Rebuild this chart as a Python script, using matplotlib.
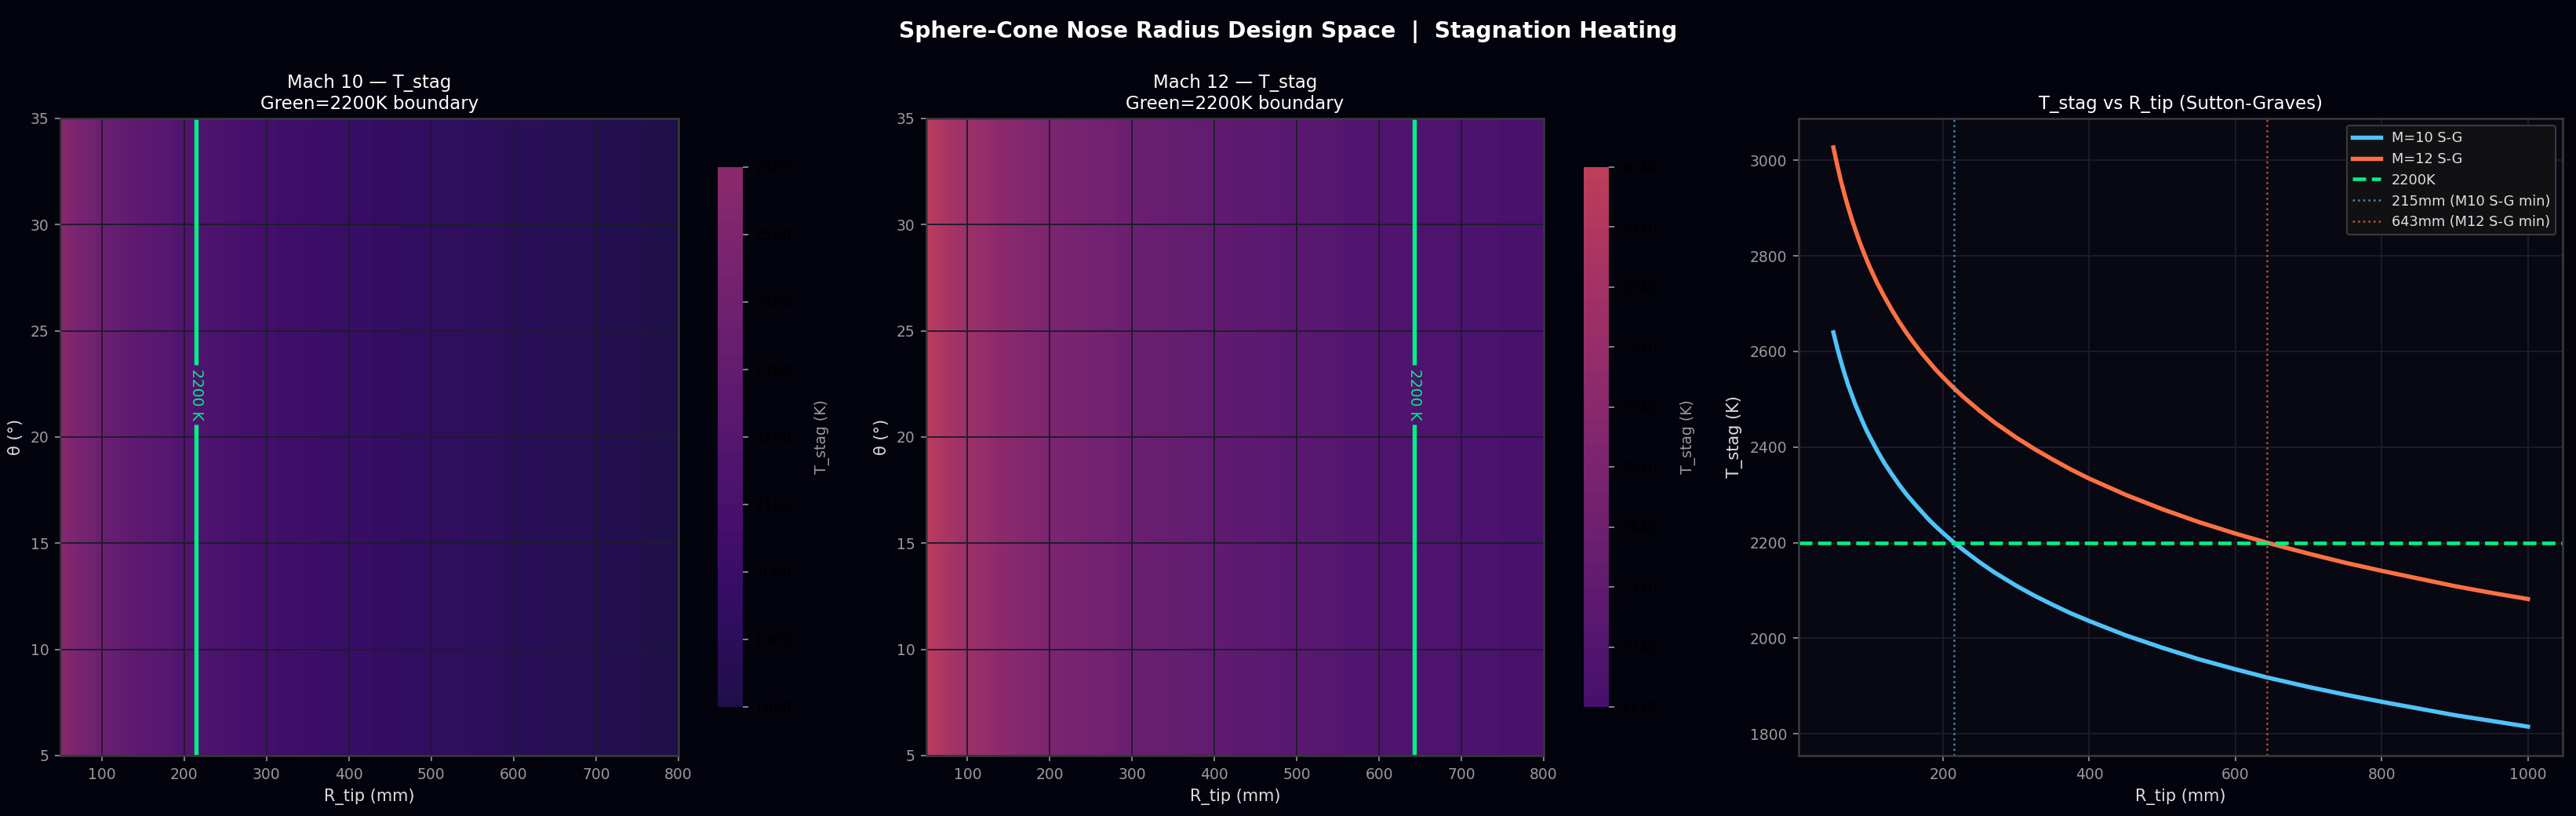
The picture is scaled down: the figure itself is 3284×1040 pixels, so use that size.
import numpy as np
import matplotlib
matplotlib.use("Agg")
import matplotlib.pyplot as plt
from matplotlib.colors import Normalize

# ---- data ----
R_mm = [50, 55, 60, 65, 70, 75, 80, 85, 90, 95,
        100, 110, 120, 130, 140, 150, 160, 170, 180, 190,
        200, 215, 230, 250, 270, 300, 325, 350, 375, 400,
        450, 500, 550, 600, 643, 700, 750, 800, 850, 900,
        950, 1000]
T_m10 = [2640, 2609, 2581, 2555, 2531, 2510, 2489, 2471, 2453, 2436,
         2421, 2392, 2366, 2343, 2321, 2301, 2283, 2266, 2249, 2234,
         2220, 2200, 2182, 2159, 2138, 2110, 2089, 2070, 2052, 2036,
         2006, 1980, 1956, 1935, 1918, 1898, 1882, 1867, 1853, 1839,
         1827, 1815]
T_m12 = [3027, 2992, 2959, 2930, 2903, 2878, 2855, 2833, 2813, 2794,
         2776, 2743, 2714, 2687, 2662, 2639, 2618, 2598, 2580, 2562,
         2546, 2523, 2502, 2476, 2452, 2420, 2396, 2374, 2353, 2334,
         2300, 2270, 2243, 2219, 2200, 2177, 2158, 2141, 2125, 2109,
         2095, 2082]
theta_deg = [5, 35]
T_limit = 2200
R_min_m10 = 215
R_min_m12 = 643
cbar_ticks_m10 = [1860, 1960, 2060, 2160, 2260, 2360, 2460, 2560, 2660]
cbar_ticks_m12 = [2140, 2240, 2340, 2440, 2540, 2640, 2740, 2840, 2940, 3040]

BG = "#03030d"
AXBG = "#080812"
GREEN = "#00f084"
BLUE = "#4fc3f7"
ORANGE = "#ff7043"

plt.rcParams["font.family"] = ["DejaVu Sans"]

fig = plt.figure(figsize=(3284 / 150, 1040 / 150), dpi=150, facecolor=BG)

W, H = 3284.0, 1040.0
def rect(x0, x1, y0, y1):
    return [x0 / W, 1 - y1 / H, (x1 - x0) / W, (y1 - y0) / H]

ax1 = fig.add_axes(rect(77, 865, 151, 963))
ax2 = fig.add_axes(rect(1181, 1968, 151, 963))
ax3 = fig.add_axes(rect(2293, 3267, 151, 963))
cax1 = fig.add_axes(rect(915, 947, 213, 901))
cax2 = fig.add_axes(rect(2019, 2051, 213, 901))

norm = Normalize(vmin=1480, vmax=4060)
R_arr = np.array(R_mm)
mask = R_arr <= 800
Rg = R_arr[mask]

def heat(ax, cax, T, ticks, Rmin, title):
    Tg = np.array(T)[mask]
    Z = np.vstack([Tg, Tg])
    X, Y = np.meshgrid(Rg, theta_deg)
    levels = np.arange(ticks[0], ticks[-1] + 1, 20)
    cs = ax.contourf(X, Y, Z, levels=levels, cmap="magma", norm=norm, alpha=0.85)
    cl = ax.contour(X, Y, Z, levels=[T_limit], colors=[GREEN], linewidths=2.6)
    ax.clabel(cl, fmt={T_limit: "2200 K"}, fontsize=9, inline=True,
              manual=[(Rmin, 22)])
    ax.set_xlim(50, 800)
    ax.set_ylim(5, 35)
    ax.set_xticks([100, 200, 300, 400, 500, 600, 700, 800])
    ax.set_yticks([5, 10, 15, 20, 25, 30, 35])
    ax.grid(True, color="#1c1c2a", linewidth=0.9)
    ax.set_facecolor(AXBG)
    ax.set_xlabel("R_tip (mm)", color="#dddddd", fontsize=10)
    ax.set_ylabel("θ (°)", color="#dddddd", fontsize=10)
    ax.set_title(title, color="white", fontsize=11)
    ax.tick_params(colors="#999999", labelsize=9)
    for s in ax.spines.values():
        s.set_color("#3a3a3a")
        s.set_linewidth(1.2)
    cax.set_facecolor(BG)
    cb = fig.colorbar(cs, cax=cax)
    cb.set_ticks(ticks)
    cb.minorticks_off()
    cb.ax.tick_params(colors="#999999", labelcolor="black", labelsize=9)
    cb.outline.set_visible(False)
    cb.set_label("T_stag (K)", color="#999999", fontsize=9, labelpad=14)

heat(ax1, cax1, T_m10, cbar_ticks_m10, R_min_m10, "Mach 10 — T_stag\nGreen=2200K boundary")
heat(ax2, cax2, T_m12, cbar_ticks_m12, R_min_m12, "Mach 12 — T_stag\nGreen=2200K boundary")

# ---- line panel ----
ax3.set_facecolor(AXBG)
ax3.plot(R_mm, T_m10, color=BLUE, lw=2.6, label="M=10 S-G")
ax3.plot(R_mm, T_m12, color=ORANGE, lw=2.6, label="M=12 S-G")
ax3.axhline(T_limit, color=GREEN, lw=2.2, ls="--", label="2200K")
ax3.axvline(R_min_m10, color=BLUE, lw=1.2, ls=":", alpha=0.7,
            label=f"{R_min_m10}mm (M10 S-G min)")
ax3.axvline(R_min_m12, color=ORANGE, lw=1.2, ls=":", alpha=0.7,
            label=f"{R_min_m12}mm (M12 S-G min)")
ax3.set_xticks([200, 400, 600, 800, 1000])
ax3.set_yticks([1800, 2000, 2200, 2400, 2600, 2800, 3000])
ax3.grid(True, color="#1c1c2c", linewidth=0.9)
ax3.set_axisbelow(True)
ax3.set_xlabel("R_tip (mm)", color="#dddddd", fontsize=10)
ax3.set_ylabel("T_stag (K)", color="#dddddd", fontsize=10)
ax3.set_title("T_stag vs R_tip (Sutton-Graves)", color="white", fontsize=11)
ax3.tick_params(colors="#999999", labelsize=9)
for s in ax3.spines.values():
    s.set_color("#3a3a3a")
    s.set_linewidth(1.2)
leg = ax3.legend(loc="upper right", fontsize=8.5, facecolor="#111114",
                 edgecolor="#3a3a3a", labelcolor="#e0e0e0", framealpha=1.0)

fig.suptitle("Sphere-Cone Nose Radius Design Space  |  Stagnation Heating",
             color="white", fontsize=13.5, fontweight="bold", y=0.975)

fig.savefig("out.png", dpi=150, facecolor=BG)
